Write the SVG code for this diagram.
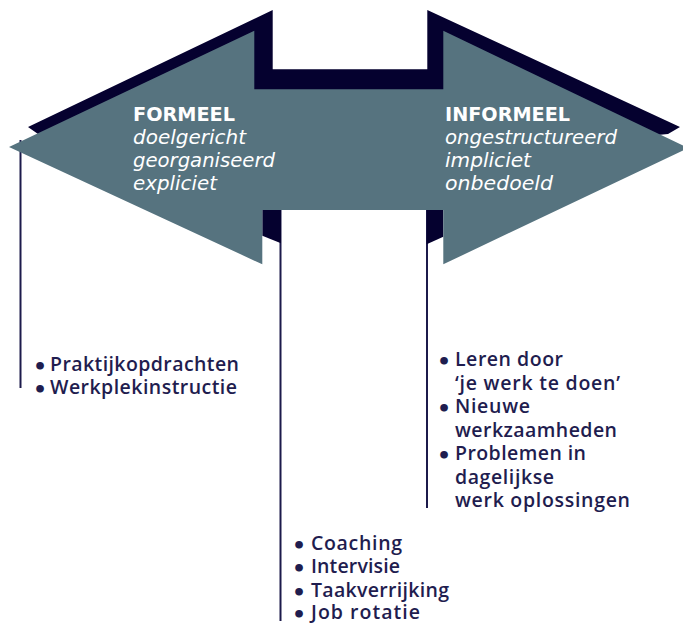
<svg xmlns="http://www.w3.org/2000/svg" width="683" height="625" viewBox="0 0 683 625">
<style>
.shadow{fill:#05012f}
.face{fill:#56737f}
.conn{stroke:#1c1a4b;stroke-width:2;fill:none}
.hd{font-family:"DejaVu Sans","Open Sans",sans-serif;font-size:19.5px;fill:#ffffff}
.hb{font-weight:700}
.hi{font-style:italic}
.bl{font-family:"Open Sans","Noto Sans",sans-serif;font-size:19.5px;font-weight:600;fill:#1f1d4f}
.bu{font-family:"DejaVu Sans",sans-serif;font-size:22px;font-weight:700}
</style>
<rect width="683" height="625" fill="#ffffff"/>
<g id="connectors">
<line class="conn" x1="20.5" y1="140" x2="20.5" y2="388"/>
<line class="conn" x1="280.5" y1="200" x2="280.5" y2="621"/>
<line class="conn" x1="427" y1="200" x2="427" y2="508"/>
</g>
<g id="arrow">
<polygon class="shadow" points="28,127 272.7,10 272.7,69.3 427.3,69.3 427.3,10 680,127 668,134 500,150 200,150 38,134"/>
<polygon class="shadow" points="262.3,200 281,200 281,243.3 262.3,235.7"/>
<polygon class="shadow" points="426.7,200 443.3,200 443.3,236.7 426.7,244.3"/>
<polygon class="face" points="9,147 254.3,30.7 254.3,89.3 443.3,89.3 443.3,30.7 688,148 443.3,264.3 443.3,210 262.3,210 262.3,264.3"/>
</g>
<g id="formeel">
<text class="hd hb" x="133" y="120.5" textLength="102" lengthAdjust="spacingAndGlyphs">FORMEEL</text>
<text class="hd hi" x="133" y="143.5" textLength="113" lengthAdjust="spacingAndGlyphs">doelgericht</text>
<text class="hd hi" x="133" y="166.5" textLength="142" lengthAdjust="spacingAndGlyphs">georganiseerd</text>
<text class="hd hi" x="133" y="189.5" textLength="84" lengthAdjust="spacingAndGlyphs">expliciet</text>
</g>
<g id="informeel">
<text class="hd hb" x="445" y="120.5" textLength="125" lengthAdjust="spacingAndGlyphs">INFORMEEL</text>
<text class="hd hi" x="445" y="143.5" textLength="172" lengthAdjust="spacingAndGlyphs">ongestructureerd</text>
<text class="hd hi" x="445" y="166.5" textLength="86" lengthAdjust="spacingAndGlyphs">impliciet</text>
<text class="hd hi" x="445" y="189.5" textLength="108" lengthAdjust="spacingAndGlyphs">onbedoeld</text>
</g>
<g id="formeel-items">
<text class="bl" y="370.5"><tspan class="bu" x="33" dy="3">•</tspan><tspan x="50" dy="-3" textLength="189" lengthAdjust="spacing">Praktijkopdrachten</tspan></text>
<text class="bl" y="394"><tspan class="bu" x="33" dy="3">•</tspan><tspan x="50" dy="-3" textLength="187" lengthAdjust="spacing">Werkplekinstructie</tspan></text>
</g>
<g id="middle-items">
<text class="bl" y="549.5"><tspan class="bu" x="292" dy="3">•</tspan><tspan x="311" dy="-3" textLength="91" lengthAdjust="spacing">Coaching</tspan></text>
<text class="bl" y="573"><tspan class="bu" x="292" dy="3">•</tspan><tspan x="311" dy="-3" textLength="89" lengthAdjust="spacing">Intervisie</tspan></text>
<text class="bl" y="596.5"><tspan class="bu" x="292" dy="3">•</tspan><tspan x="311" dy="-3" textLength="138" lengthAdjust="spacing">Taakverrijking</tspan></text>
<text class="bl" y="619"><tspan class="bu" x="292" dy="3">•</tspan><tspan x="311" dy="-3" textLength="109" lengthAdjust="spacing">Job rotatie</tspan></text>
</g>
<g id="informeel-items">
<text class="bl" y="366"><tspan class="bu" x="437" dy="3">•</tspan><tspan x="455" dy="-3" textLength="108" lengthAdjust="spacing">Leren door</tspan></text>
<text class="bl" x="455" y="389.5" textLength="165" lengthAdjust="spacing">‘je werk te doen’</text>
<text class="bl" y="413"><tspan class="bu" x="437" dy="3">•</tspan><tspan x="455" dy="-3" textLength="75" lengthAdjust="spacing">Nieuwe</tspan></text>
<text class="bl" x="455" y="436.5" textLength="162" lengthAdjust="spacing">werkzaamheden</text>
<text class="bl" y="460"><tspan class="bu" x="437" dy="3">•</tspan><tspan x="455" dy="-3" textLength="131" lengthAdjust="spacing">Problemen in</tspan></text>
<text class="bl" x="455" y="483.5" textLength="99" lengthAdjust="spacing">dagelijkse</text>
<text class="bl" x="455" y="507" textLength="175" lengthAdjust="spacing">werk oplossingen</text>
</g>
</svg>
